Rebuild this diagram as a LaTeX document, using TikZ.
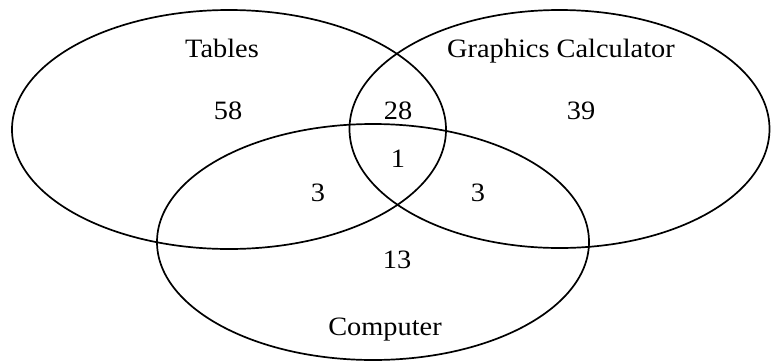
\documentclass[tikz,border=0pt]{standalone}
\usepackage{fontspec}
\setmainfont{Liberation Serif}
\usetikzlibrary{shapes.geometric}
\begin{document}
\begin{tikzpicture}[x=1pt,y=-1pt,
  setshape/.style={draw=black, line width=1.7pt, ellipse, inner sep=0pt},
  lbl/.style={anchor=base, inner sep=0pt, font=\fontsize{26.5}{30}\selectfont, xscale=1.07, transform shape}]
\useasboundingbox (0,0) rectangle (771,362);
\node[setshape, minimum width=434pt, minimum height=239pt] (tables) at (229,129.5) {};
\node[setshape, minimum width=420pt, minimum height=238pt] (graph) at (559.5,129) {};
\node[setshape, minimum width=432pt, minimum height=236pt] (comp) at (373,242) {};
\node[lbl] (tl) at (222,57) {Tables};
\node[lbl] (gl) at (561,57) {Graphics Calculator};
\node[lbl] (cl) at (385,335) {Computer};
\node[lbl] (n58) at (228,119) {58};
\node[lbl] (n28) at (398,119) {28};
\node[lbl] (n39) at (581,119) {39};
\node[lbl] (n1) at (398,167) {1};
\node[lbl] (n3a) at (318,201) {3};
\node[lbl] (n3b) at (478,201) {3};
\node[lbl] (n13) at (397,268) {13};
\end{tikzpicture}
\end{document}
